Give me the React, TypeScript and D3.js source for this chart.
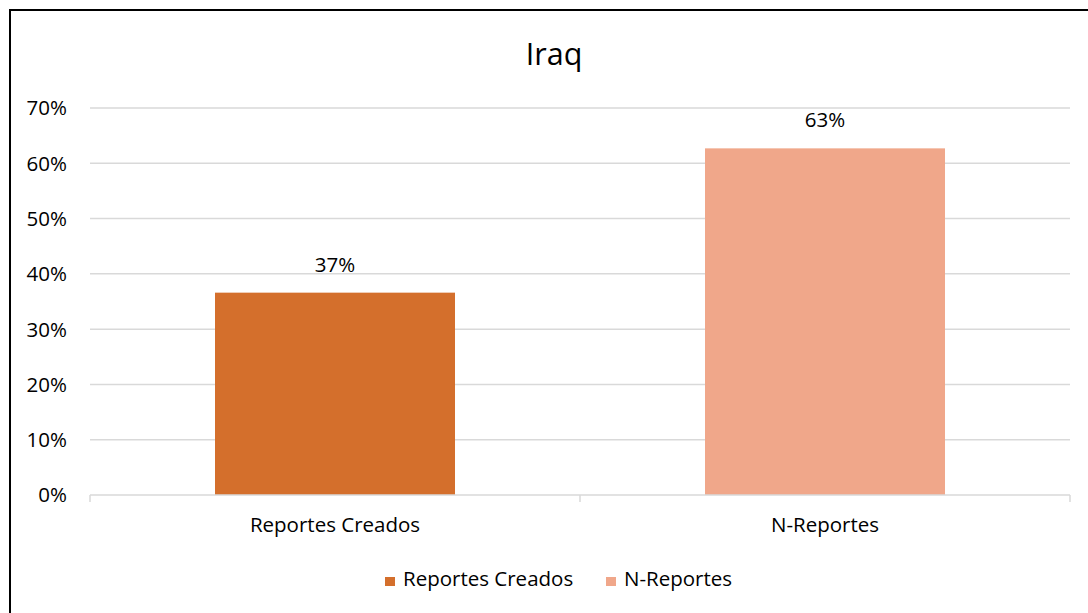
import React from "react";
import * as d3 from "d3";

const categories = ["Reportes Creados", "N-Reportes"];
const values = [0.366, 0.627];
const labels = ["37%", "63%"];
const colors = ["#D46F2C", "#F0A78A"];
const yTicks = [0, 0.1, 0.2, 0.3, 0.4, 0.5, 0.6, 0.7];
const title = "Iraq";

const W = 1088;
const H = 613;
const FONT = "'Open Sans', sans-serif";

export default function App() {
  const x = d3.scaleBand<string>().domain(categories).range([90, 1070]).paddingInner(0).paddingOuter(0);
  const y = d3.scaleLinear().domain([0, 0.7]).range([495, 108]);
  const bw = 240;
  const fmt = d3.format(".0%");
  const fs = 20.5;

  return (
    <svg
      width={W}
      height={H}
      style={{ position: "absolute", left: 0, top: 0, background: "#fff" }}
      fontFamily={FONT}
    >
      <rect x={0} y={0} width={W} height={H} fill="#fff" />
      <rect x={10} y={10} width={W + 20} height={H + 20} fill="none" stroke="#000" strokeWidth={2} />
      <text x={554} y={65} textAnchor="middle" fontSize={30.5} fill="#000">
        {title}
      </text>
      {yTicks.map((t) => (
        <g key={t}>
          {t > 0 && (
            <line x1={90} x2={1070} y1={y(t)} y2={y(t)} stroke="#D9D9D9" strokeWidth={1.5} />
          )}
          <text x={67} y={y(t)} dy="0.36em" textAnchor="end" fontSize={fs} fill="#000">
            {fmt(t)}
          </text>
        </g>
      ))}
      {categories.map((c, i) => {
        const cx = (x(c) as number) + x.bandwidth() / 2;
        return (
          <g key={c}>
            <rect
              x={cx - bw / 2}
              y={y(values[i])}
              width={bw}
              height={y(0) - y(values[i])}
              fill={colors[i]}
            />
            <text x={cx} y={y(values[i]) - 21} textAnchor="middle" fontSize={fs} fill="#000">
              {labels[i]}
            </text>
            <text x={cx} y={532} textAnchor="middle" fontSize={fs} fill="#000">
              {c}
            </text>
          </g>
        );
      })}
      <line x1={90} x2={1070} y1={y(0)} y2={y(0)} stroke="#D9D9D9" strokeWidth={1.5} />
      {[90, 580, 1070].map((tx) => (
        <line key={tx} x1={tx} x2={tx} y1={y(0)} y2={y(0) + 7} stroke="#D9D9D9" strokeWidth={1.5} />
      ))}
      <g>
        <rect x={385} y={577} width={10} height={9} fill={colors[0]} />
        <text x={403} y={586} fontSize={fs} fill="#000">
          {categories[0]}
        </text>
        <rect x={606} y={577} width={10} height={9} fill={colors[1]} />
        <text x={624} y={586} fontSize={fs} fill="#000">
          {categories[1]}
        </text>
      </g>
    </svg>
  );
}
